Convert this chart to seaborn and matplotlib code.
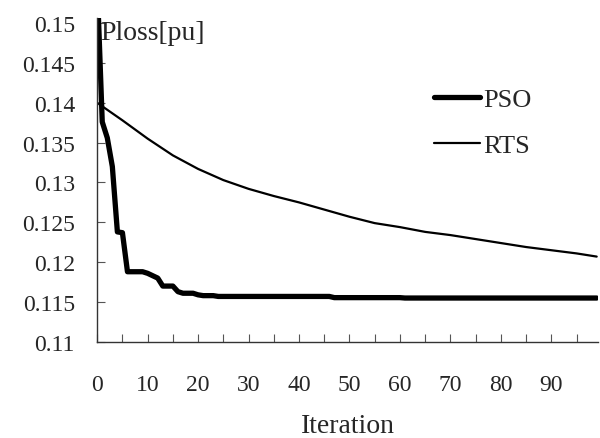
import numpy as np
import pandas as pd
import seaborn as sns
import matplotlib.pyplot as plt

## values
pso_iter = [0, 1, 2, 3, 4, 5, 6, 9, 10, 11, 12, 13, 15, 16, 17, 19, 20, 21, 23, 24, 46, 47, 60, 61, 99]
pso_loss = [0.155, 0.1376, 0.1356, 0.1320, 0.1238, 0.1237, 0.1188, 0.1188, 0.1186, 0.1183,
            0.1180, 0.1170, 0.1170, 0.1163, 0.1161, 0.1161, 0.1159, 0.1158, 0.1158, 0.1157,
            0.1157, 0.11555, 0.11555, 0.1155, 0.1155]

rts_iter = [0, 5, 10, 15, 20, 25, 30, 35, 40, 45, 50, 55, 60, 65, 70, 75, 80, 85, 90, 95, 99]
rts_loss = [0.1400, 0.1378, 0.1355, 0.1334, 0.1317, 0.1303, 0.1292, 0.1283, 0.1275, 0.1266,
            0.1257, 0.1249, 0.1244, 0.1238, 0.1234, 0.1229, 0.1224, 0.1219, 0.1215, 0.1211, 0.1207]

xticks = [0, 10, 20, 30, 40, 50, 60, 70, 80, 90]
yticks = [0.11, 0.115, 0.12, 0.125, 0.13, 0.135, 0.14, 0.145, 0.15]
ytick_labels = ['0.11', '0.115', '0.12', '0.125', '0.13', '0.135', '0.14', '0.145', '0.15']

df = pd.concat([
    pd.DataFrame({'Iteration': pso_iter, 'Ploss': pso_loss, 'method': 'PSO'}),
    pd.DataFrame({'Iteration': rts_iter, 'Ploss': rts_loss, 'method': 'RTS'}),
])

sns.set_style('white')
plt.rcParams['font.family'] = ['Liberation Serif', 'DejaVu Serif']

fig = plt.figure(figsize=(6, 4.39), dpi=100)
ax = fig.add_axes([0.162, 0.219, 0.835, 0.737])

sns.lineplot(data=df, x='Iteration', y='Ploss', hue='method', size='method',
             sizes={'PSO': 3.8, 'RTS': 1.6}, palette={'PSO': 'black', 'RTS': 'black'},
             ax=ax, estimator=None, sort=False)
for ln in ax.get_lines():
    ln.set_solid_capstyle('round')

ax.set_xlim(0, 99.3)
ax.set_ylim(0.11, 0.1506)
ax.set_xticks(xticks)
ax.set_xticks(np.arange(5, 100, 10), minor=True)
ax.set_yticks(yticks)
ax.set_yticklabels(ytick_labels)

ax.tick_params(axis='x', which='both', direction='in', length=6, width=0.8, color='#555555',
               bottom=True, pad=23, labelsize=17)
ax.tick_params(axis='y', which='both', direction='in', length=6, width=0.8, color='#555555',
               left=True, pad=16, labelsize=17)

for s in ['top', 'right']:
    ax.spines[s].set_visible(False)
for s in ['left', 'bottom']:
    ax.spines[s].set_color('#333333')
    ax.spines[s].set_linewidth(1.0)

ax.set_xlabel('Iteration', fontsize=20, labelpad=13)
ax.set_ylabel('')
ax.text(0.006, 0.955, 'Ploss[pu]', transform=ax.transAxes, fontsize=20, va='center', ha='left')

handles, labels = ax.get_legend_handles_labels()
ax.legend(handles, labels, loc='upper left', bbox_to_anchor=(0.625, 0.86), frameon=False,
          fontsize=19, handlelength=1.75, handletextpad=0.1, labelspacing=0.85)

fig.savefig('out.png', dpi=100)
